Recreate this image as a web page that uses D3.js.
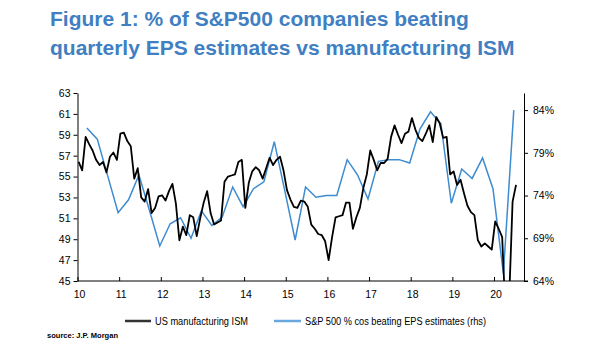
<!DOCTYPE html>
<html><head><meta charset="utf-8">
<script src="https://cdn.jsdelivr.net/npm/d3@7"></script>
<style>
html,body{margin:0;padding:0;background:#fff;}
svg{display:block;font-family:"Liberation Sans",Arial,sans-serif;}
</style></head>
<body><svg id="c" width="605" height="341"></svg>
<script>
// ---- data ----
const titleLines = ["Figure 1: % of S&P500 companies beating", "quarterly EPS estimates vs manufacturing ISM"];
const ismStart = 2010; // monthly from Jan 2010
const ismValues = [
  56.4,55.6,58.8,58.1,57.5,56.6,56.1,56.4,55.4,56.9,57.3,56.6, // 2010
  59.1,59.2,58.4,57.9,54.8,55.8,53.0,52.6,53.8,51.5,52.0,53.1, // 2011
  53.2,52.7,53.6,54.3,52.4,48.9,50.2,49.4,51.3,51.1,49.3,51.0, // 2012
  52.5,53.6,51.5,50.4,50.6,50.8,54.5,55.0,55.1,55.2,56.4,56.6, // 2013
  52.0,54.4,55.5,55.9,55.6,54.8,55.8,56.8,56.1,56.6,56.9,55.6, // 2014
  53.7,52.8,52.1,52.0,52.7,52.6,52.1,50.4,50.0,49.5,49.4,48.8, // 2015
  47.0,49.2,51.1,51.2,51.3,52.5,52.5,50.0,51.1,52.0,53.9,55.2, // 2016
  57.5,56.6,55.6,56.3,56.3,56.7,58.8,59.9,59.0,58.2,59.1,59.3, // 2017
  60.6,59.5,58.7,58.4,59.1,59.9,58.3,60.7,60.1,58.7,58.8,55.2, // 2018
  55.5,54.2,54.7,53.4,52.2,51.6,51.3,48.9,48.3,48.6,48.3,48.0, // 2019
  50.7,50.0,49.2,41.5,43.1,52.6,54.2                            // 2020
];
const beatQuarters = [
  "2010Q1","2010Q2","2010Q3","2010Q4","2011Q1","2011Q2","2011Q3","2011Q4",
  "2012Q1","2012Q2","2012Q3","2012Q4","2013Q1","2013Q2","2013Q3","2013Q4",
  "2014Q1","2014Q2","2014Q3","2014Q4","2015Q1","2015Q2","2015Q3","2015Q4",
  "2016Q1","2016Q2","2016Q3","2016Q4","2017Q1","2017Q2","2017Q3","2017Q4",
  "2018Q1","2018Q2","2018Q3","2018Q4","2019Q1","2019Q2","2019Q3","2019Q4",
  "2020Q1","2020Q2"];
const beatValues = [
  81.9,80.6,76.3,72.0, 73.5,76.4,72.3,68.1, 70.7,71.4,69.0,72.2,
  70.5,71.5,75.0,72.7, 74.8,75.6,80.3,74.6, 68.8,75.0,73.8,74.0,
  74.0,78.2,76.4,73.6, 78.0,78.2,78.2,77.8, 81.8,83.8,82.4,73.1,
  77.1,76.0,78.4,74.8, 64.9,84.0];
const yearTicks = [2010,2011,2012,2013,2014,2015,2016,2017,2018,2019,2020];
const leftTicks = [45,47,49,51,53,55,57,59,61,63];
const rightTicks = [64,69,74,79,84];
const legendLabels = ["US manufacturing ISM", "S&P 500 % cos beating EPS estimates (rhs)"];
const sourceText = "source: J.P. Morgan";

// ---- layout ----
const svg = d3.select("#c");
const L = 77.5, R = 524, T = 93, B = 281;
const blue = "#3d8bd0", titleBlue = "#3f7fc2";

const x = d3.scaleLinear().domain([2010, 2020.72]).range([L, R]);
const yL = d3.scaleLinear().domain([45, 63]).range([B, T]);
const yR = d3.scaleLinear().domain([64, 86]).range([B, T]);

// title
svg.append("g").selectAll("text").data(titleLines).join("text")
  .attr("x", 50).attr("y", (d,i)=> 26 + i*29)
  .attr("font-size", 21).attr("font-weight", "bold").attr("fill", titleBlue)
  .text(d=>d);

svg.append("clipPath").attr("id","plot").append("rect")
  .attr("x", L).attr("y", T-5).attr("width", R-L).attr("height", B-T+5);

const ismData = ismValues.map((v,i)=>({t: ismStart + (i + 0.35)/12, v}));
const beatData = beatQuarters.map((q,i)=>({t: +q.slice(0,4) + (3*(+q.slice(5)) - 0.3)/12, v: beatValues[i]}));

const lines = svg.append("g").attr("clip-path","url(#plot)");
lines.append("path").datum(beatData)
  .attr("fill","none").attr("stroke",blue).attr("stroke-width",1.5)
  .attr("d", d3.line().x(d=>x(d.t)).y(d=>yR(d.v)));
lines.append("path").datum(ismData)
  .attr("fill","none").attr("stroke","#000").attr("stroke-width",1.8)
  .attr("stroke-linejoin","round")
  .attr("d", d3.line().x(d=>x(d.t)).y(d=>yL(d.v)));

// axes
function styleAxis(g){
  g.selectAll("path,line").attr("stroke","#000").attr("stroke-width",1);
  g.selectAll("text").attr("font-size",10.5).attr("fill","#000")
    .attr("font-family",'"Liberation Sans",Arial,sans-serif');
}
svg.append("g").attr("transform",`translate(${L},0)`)
  .call(d3.axisLeft(yL).tickValues(leftTicks).tickSize(4).tickSizeOuter(0).tickPadding(3))
  .call(styleAxis);
svg.append("g").attr("transform",`translate(${R},0)`)
  .call(d3.axisRight(yR).tickValues(rightTicks).tickSize(4).tickSizeOuter(0).tickPadding(5).tickFormat(d=>d+"%"))
  .call(styleAxis);
const xa = svg.append("g").attr("transform",`translate(0,${B})`)
  .call(d3.axisBottom(x).tickValues(yearTicks).tickSize(-4).tickSizeOuter(0).tickPadding(9.5).tickFormat(d=>String(d-2000)))
  .call(styleAxis);
xa.selectAll("text").attr("dx", 1.5);
xa.select(".domain").attr("d", `M${L},0H${R+4}`);

// legend
const lg = svg.append("g");
lg.append("line").attr("x1",125).attr("x2",151).attr("y1",321).attr("y2",321)
  .attr("stroke","#333").attr("stroke-width",2.5);
lg.append("line").attr("x1",274).attr("x2",301).attr("y1",321).attr("y2",321)
  .attr("stroke","#6aa7dd").attr("stroke-width",2.5);
lg.selectAll("text").data(legendLabels).join("text")
  .attr("x",(d,i)=> i===0 ? 155 : 305).attr("y",325)
  .attr("font-size",11.5).attr("fill","#000")
  .attr("textLength",(d,i)=> i===0 ? 93 : 181).attr("lengthAdjust","spacingAndGlyphs")
  .text(d=>d);

// source
svg.append("text").attr("x",47).attr("y",338)
  .attr("font-size",8).attr("font-weight","bold").attr("fill","#000")
  .attr("textLength",71).attr("lengthAdjust","spacingAndGlyphs")
  .text(sourceText);
</script></body></html>
